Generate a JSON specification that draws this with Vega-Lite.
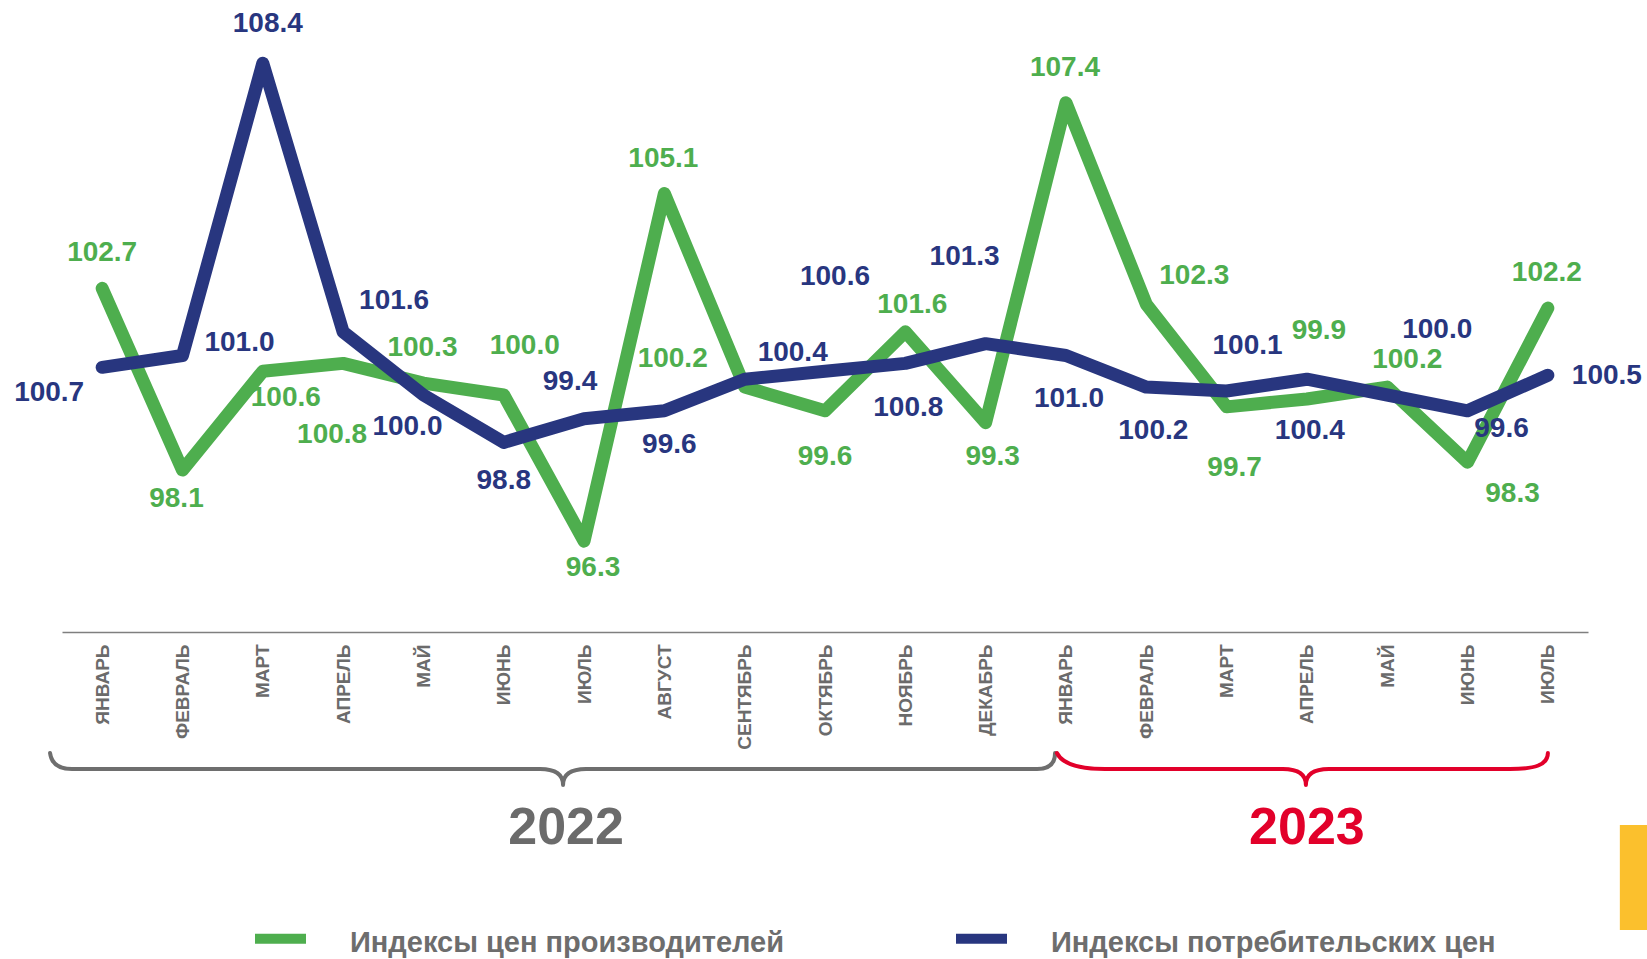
{
  "$schema": "https://vega.github.io/schema/vega-lite/v6.json",
  "width": 1526,
  "height": 632,
  "autosize": {"type": "none"},
  "padding": {"left": 62, "right": 59, "top": 0, "bottom": 327},
  "background": "white",
  "config": {"view": {"stroke": null}, "font": "Liberation Sans"},
  "data": {
    "values": [
      {"month": "ЯНВАРЬ 2022", "year": "2022", "series": "Индексы цен производителей", "value": 102.7},
      {"month": "ФЕВРАЛЬ 2022", "year": "2022", "series": "Индексы цен производителей", "value": 98.1},
      {"month": "МАРТ 2022", "year": "2022", "series": "Индексы цен производителей", "value": 100.6},
      {"month": "АПРЕЛЬ 2022", "year": "2022", "series": "Индексы цен производителей", "value": 100.8},
      {"month": "МАЙ 2022", "year": "2022", "series": "Индексы цен производителей", "value": 100.3},
      {"month": "ИЮНЬ 2022", "year": "2022", "series": "Индексы цен производителей", "value": 100.0},
      {"month": "ИЮЛЬ 2022", "year": "2022", "series": "Индексы цен производителей", "value": 96.3},
      {"month": "АВГУСТ 2022", "year": "2022", "series": "Индексы цен производителей", "value": 105.1},
      {"month": "СЕНТЯБРЬ 2022", "year": "2022", "series": "Индексы цен производителей", "value": 100.2},
      {"month": "ОКТЯБРЬ 2022", "year": "2022", "series": "Индексы цен производителей", "value": 99.6},
      {"month": "НОЯБРЬ 2022", "year": "2022", "series": "Индексы цен производителей", "value": 101.6},
      {"month": "ДЕКАБРЬ 2022", "year": "2022", "series": "Индексы цен производителей", "value": 99.3},
      {"month": "ЯНВАРЬ 2023", "year": "2023", "series": "Индексы цен производителей", "value": 107.4},
      {"month": "ФЕВРАЛЬ 2023", "year": "2023", "series": "Индексы цен производителей", "value": 102.3},
      {"month": "МАРТ 2023", "year": "2023", "series": "Индексы цен производителей", "value": 99.7},
      {"month": "АПРЕЛЬ 2023", "year": "2023", "series": "Индексы цен производителей", "value": 99.9},
      {"month": "МАЙ 2023", "year": "2023", "series": "Индексы цен производителей", "value": 100.2},
      {"month": "ИЮНЬ 2023", "year": "2023", "series": "Индексы цен производителей", "value": 98.3},
      {"month": "ИЮЛЬ 2023", "year": "2023", "series": "Индексы цен производителей", "value": 102.2},
      {"month": "ЯНВАРЬ 2022", "year": "2022", "series": "Индексы потребительских цен", "value": 100.7},
      {"month": "ФЕВРАЛЬ 2022", "year": "2022", "series": "Индексы потребительских цен", "value": 101.0},
      {"month": "МАРТ 2022", "year": "2022", "series": "Индексы потребительских цен", "value": 108.4},
      {"month": "АПРЕЛЬ 2022", "year": "2022", "series": "Индексы потребительских цен", "value": 101.6},
      {"month": "МАЙ 2022", "year": "2022", "series": "Индексы потребительских цен", "value": 100.0},
      {"month": "ИЮНЬ 2022", "year": "2022", "series": "Индексы потребительских цен", "value": 98.8},
      {"month": "ИЮЛЬ 2022", "year": "2022", "series": "Индексы потребительских цен", "value": 99.4},
      {"month": "АВГУСТ 2022", "year": "2022", "series": "Индексы потребительских цен", "value": 99.6},
      {"month": "СЕНТЯБРЬ 2022", "year": "2022", "series": "Индексы потребительских цен", "value": 100.4},
      {"month": "ОКТЯБРЬ 2022", "year": "2022", "series": "Индексы потребительских цен", "value": 100.6},
      {"month": "НОЯБРЬ 2022", "year": "2022", "series": "Индексы потребительских цен", "value": 100.8},
      {"month": "ДЕКАБРЬ 2022", "year": "2022", "series": "Индексы потребительских цен", "value": 101.3},
      {"month": "ЯНВАРЬ 2023", "year": "2023", "series": "Индексы потребительских цен", "value": 101.0},
      {"month": "ФЕВРАЛЬ 2023", "year": "2023", "series": "Индексы потребительских цен", "value": 100.2},
      {"month": "МАРТ 2023", "year": "2023", "series": "Индексы потребительских цен", "value": 100.1},
      {"month": "АПРЕЛЬ 2023", "year": "2023", "series": "Индексы потребительских цен", "value": 100.4},
      {"month": "МАЙ 2023", "year": "2023", "series": "Индексы потребительских цен", "value": 100.0},
      {"month": "ИЮНЬ 2023", "year": "2023", "series": "Индексы потребительских цен", "value": 99.6},
      {"month": "ИЮЛЬ 2023", "year": "2023", "series": "Индексы потребительских цен", "value": 100.5}
    ]
  },
  "transform": [{"window": [{"op": "row_number", "as": "n"}], "groupby": ["series"]}],
  "encoding": {
    "x": {
      "field": "month", "type": "ordinal", "sort": null,
      "axis": {
        "title": null, "labelAngle": -90, "labelExpr": "split(datum.label, ' ')[0]",
        "ticks": false, "grid": false, "domainColor": "#7f7f7f", "domainWidth": 1.5,
        "labelFont": "Liberation Sans", "labelFontWeight": "bold", "labelFontSize": 19,
        "labelColor": "#6b6b6b", "labelPadding": 12
      }
    },
    "y": {"field": "value", "type": "quantitative", "scale": {"domain": [94, 110], "zero": false}, "axis": null}
  },
  "layer": [
    {
      "transform": [{"filter": "datum.series == 'Индексы цен производителей'"}],
      "mark": {"type": "line", "strokeWidth": 13, "strokeCap": "round", "strokeJoin": "round"},
      "encoding": {
        "color": {
          "field": "series", "type": "nominal",
          "scale": {"domain": ["Индексы цен производителей", "Индексы потребительских цен"], "range": ["#4EAE4E", "#28367F"]},
          "legend": {
            "orient": "none", "legendX": 188, "legendY": 908, "direction": "horizontal", "title": null,
            "symbolType": "stroke", "symbolSize": 2601, "symbolStrokeWidth": 10,
            "labelFont": "Liberation Sans", "labelFontSize": 29, "labelFontWeight": "bold",
            "labelColor": "#6d6d6d", "labelOffset": 39, "columnPadding": 151, "padding": 0, "labelLimit": 0,
            "encode": {"labels": {"update": {"dy": {"value": 4}}}}
          }
        }
      }
    },
    {
      "transform": [{"filter": "datum.series == 'Индексы потребительских цен'"}],
      "mark": {"type": "line", "strokeWidth": 13, "strokeCap": "round", "strokeJoin": "round"},
      "encoding": {
        "color": {
          "field": "series", "type": "nominal",
          "scale": {"domain": ["Индексы цен производителей", "Индексы потребительских цен"], "range": ["#4EAE4E", "#28367F"]},
          "legend": {
            "orient": "none", "legendX": 188, "legendY": 908, "direction": "horizontal", "title": null,
            "symbolType": "stroke", "symbolSize": 2601, "symbolStrokeWidth": 10,
            "labelFont": "Liberation Sans", "labelFontSize": 29, "labelFontWeight": "bold",
            "labelColor": "#6d6d6d", "labelOffset": 39, "columnPadding": 151, "padding": 0, "labelLimit": 0,
            "encode": {"labels": {"update": {"dy": {"value": 4}}}}
          }
        }
      }
    },
    {
      "mark": {
        "type": "text", "font": "Liberation Sans", "fontSize": 28, "fontWeight": "bold",
        "align": "center", "baseline": "middle",
        "dx": {"expr": "datum.series == 'Индексы цен производителей' ? [0,-6,23,-11,-1,21,9,-1,-72,0,7,7,-1,48,8,12,20,45,-1][datum.n-1] : [-53,57,5,51,-16,0,-14,5,48,10,3,-21,3,7,21,3,50,34,59][datum.n-1]"},
        "dy": {"expr": "datum.series == 'Индексы цен производителей' ? [-35,29,27,72,-35,-49,27,-35,-28,46,-27,34,-35,-28,61,-68,-27,32,-35][datum.n-1] : [26,-13,-39,-31,32,39,-37,34,-26,-94,45,-87,43,44,-45,52,-65,18,1][datum.n-1]"}
      },
      "encoding": {
        "text": {"field": "value", "type": "quantitative", "format": ".1f"},
        "fill": {"field": "series", "type": "nominal",
          "scale": {"domain": ["Индексы цен производителей", "Индексы потребительских цен"], "range": ["#4EAE4E", "#28367F"]},
          "legend": null}
      }
    },
    {
      "transform": [{"filter": "datum.series == 'Индексы цен производителей' && datum.month == 'ИЮЛЬ 2022'"}],
      "mark": {"type": "point", "shape": "M -5.34 1.21 Q -5.32 1.37 -5.12 1.37 L -0.44 1.37 Q -0.21 1.37 -0.21 1.53 Q -0.21 1.37 0.02 1.37 L 4.53 1.37 Q 4.71 1.37 4.71 1.21",
        "size": 40000, "filled": false, "stroke": "#6e6e6e", "strokeWidth": 4, "opacity": 1, "strokeCap": "round", "strokeJoin": "round"},
      "encoding": {"y": {"datum": 94}}
    },
    {
      "transform": [{"filter": "datum.series == 'Индексы цен производителей' && datum.month == 'АПРЕЛЬ 2023'"}],
      "mark": {"type": "point", "shape": "M -2.5 1.21 Q -2.42 1.37 -2.02 1.37 L -0.24 1.37 Q -0.01 1.37 -0.01 1.53 Q -0.01 1.37 0.22 1.37 L 2.03 1.37 C 2.28 1.37 2.41 1.33 2.41 1.21",
        "size": 40000, "filled": false, "stroke": "#e2002a", "strokeWidth": 4, "opacity": 1, "strokeCap": "round", "strokeJoin": "round"},
      "encoding": {"y": {"datum": 94}}
    },
    {
      "transform": [{"filter": "datum.series == 'Индексы цен производителей' && (datum.month == 'ИЮЛЬ 2022' || datum.month == 'АПРЕЛЬ 2023')"}],
      "mark": {"type": "text", "font": "Liberation Sans", "fontSize": 52, "fontWeight": "bold",
        "align": "center", "baseline": "middle", "dy": 196,
        "dx": {"expr": "datum.year == '2022' ? -18 : 0"},
        "fill": {"expr": "datum.year == '2022' ? '#6b6b6b' : '#e2002a'"}},
      "encoding": {"text": {"field": "year"}, "y": {"datum": 94}}
    },
    {
      "transform": [{"filter": "datum.series == 'Индексы цен производителей' && datum.month == 'ИЮЛЬ 2023'"}],
      "mark": {"type": "point", "shape": "M 0.72 1.93 H 1.1 V 2.98 H 0.72 Z", "size": 40000, "filled": true,
        "fill": "#FBC02D", "strokeWidth": 0, "opacity": 1},
      "encoding": {"y": {"datum": 94}}
    }
  ]
}
